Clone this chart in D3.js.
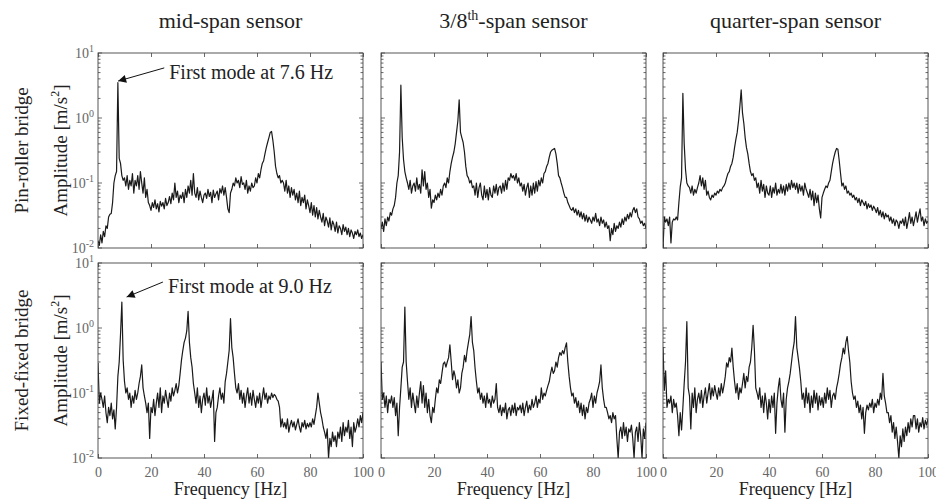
<!DOCTYPE html>
<html>
<head>
<meta charset="utf-8">
<script src="https://cdn.jsdelivr.net/npm/d3@7"></script>
<style>
  body { margin: 0; background: #fff; }
  svg text { font-family: "Liberation Serif", "Times New Roman", serif; }
</style>
</head>
<body>
<svg id="chart" width="936" height="500"></svg>
<script>
// Column titles, row labels and tick values
const sensors = ["mid-span", "3/8", "quarter-span"];
const bridges = ["Pin-roller bridge", "Fixed-fixed bridge"];
const xTicks = [0, 20, 40, 60, 80, 100];
const yMajor = [0.01, 0.1, 1, 10];
const yExponents = ["-2", "-1", "0", "1"];
const freqStep = 0.5; // Hz between samples, spectra start at 0 Hz

// Spectra (amplitude, m/s^2), one value every 0.5 Hz from 0 to 100 Hz
const pinMid = [
  0.013,0.011,0.016,0.012,0.018,0.015,0.022,0.02,0.03,0.033,
  0.034,0.05,0.1,0.13,0.15,3.5,0.24,0.2,0.13,0.11,
  0.12,0.09,0.13,0.08,0.11,0.09,0.14,0.07,0.11,0.09,
  0.13,0.08,0.15,0.1,0.07,0.12,0.06,0.08,0.05,0.045,
  0.038,0.05,0.042,0.055,0.04,0.048,0.036,0.052,0.044,0.05,
  0.04,0.058,0.045,0.05,0.062,0.048,0.07,0.055,0.1,0.06,
  0.075,0.05,0.065,0.058,0.072,0.05,0.08,0.06,0.09,0.07,
  0.11,0.065,0.14,0.07,0.06,0.085,0.055,0.075,0.06,0.05,
  0.065,0.07,0.058,0.08,0.062,0.072,0.05,0.078,0.06,0.068,
  0.075,0.055,0.082,0.07,0.09,0.065,0.085,0.06,0.04,0.035,
  0.07,0.08,0.1,0.09,0.12,0.1,0.11,0.085,0.125,0.095,
  0.1,0.08,0.11,0.07,0.09,0.075,0.1,0.085,0.09,0.12,
  0.1,0.14,0.12,0.16,0.2,0.22,0.28,0.35,0.42,0.5,
  0.6,0.62,0.45,0.3,0.18,0.14,0.12,0.13,0.1,0.11,
  0.1,0.075,0.11,0.07,0.09,0.06,0.085,0.065,0.08,0.055,
  0.07,0.05,0.075,0.045,0.06,0.05,0.065,0.04,0.055,0.045,
  0.035,0.05,0.032,0.045,0.03,0.042,0.028,0.038,0.03,0.025,
  0.034,0.022,0.03,0.026,0.021,0.029,0.019,0.026,0.023,0.018,
  0.025,0.017,0.022,0.02,0.016,0.023,0.018,0.021,0.016,0.02,
  0.015,0.019,0.017,0.014,0.018,0.016,0.019,0.015,0.017,0.014,
  0.016
];
const pinThree = [
  0.02,0.025,0.018,0.028,0.022,0.03,0.026,0.035,0.032,0.04,
  0.045,0.06,0.1,0.13,0.3,3.2,0.5,0.23,0.15,0.12,
  0.1,0.08,0.11,0.07,0.09,0.1,0.075,0.12,0.08,0.095,
  0.07,0.16,0.09,0.15,0.08,0.1,0.06,0.08,0.041,0.055,
  0.05,0.065,0.055,0.07,0.06,0.08,0.065,0.09,0.1,0.085,
  0.12,0.1,0.15,0.2,0.25,0.3,0.4,0.6,0.9,1.9,
  0.6,0.5,0.42,0.3,0.18,0.13,0.12,0.1,0.11,0.085,
  0.09,0.065,0.1,0.06,0.085,0.1,0.065,0.055,0.09,0.06,
  0.08,0.055,0.085,0.065,0.06,0.09,0.07,0.095,0.065,0.085,
  0.09,0.07,0.1,0.075,0.11,0.08,0.12,0.11,0.14,0.12,
  0.13,0.11,0.14,0.1,0.12,0.09,0.1,0.075,0.095,0.065,
  0.085,0.1,0.06,0.09,0.065,0.1,0.07,0.105,0.075,0.11,
  0.09,0.12,0.1,0.14,0.15,0.18,0.2,0.25,0.3,0.32,
  0.33,0.34,0.28,0.2,0.13,0.12,0.1,0.085,0.07,0.06,
  0.06,0.05,0.045,0.04,0.038,0.042,0.035,0.04,0.032,0.038,
  0.03,0.036,0.028,0.034,0.026,0.032,0.025,0.03,0.027,0.024,
  0.03,0.026,0.034,0.025,0.028,0.022,0.03,0.024,0.027,0.021,
  0.025,0.02,0.022,0.013,0.02,0.016,0.024,0.018,0.022,0.02,
  0.025,0.021,0.028,0.023,0.03,0.026,0.033,0.028,0.035,0.03,
  0.038,0.042,0.035,0.04,0.03,0.028,0.024,0.026,0.022,0.024,
  0.02
];
const pinQuarter = [
  0.01,0.03,0.025,0.028,0.022,0.03,0.012,0.025,0.028,0.027,
  0.03,0.027,0.05,0.087,0.12,2.4,0.4,0.16,0.1,0.09,
  0.085,0.07,0.09,0.065,0.08,0.07,0.085,0.1,0.13,0.09,
  0.12,0.08,0.11,0.065,0.075,0.06,0.055,0.065,0.06,0.07,
  0.065,0.075,0.07,0.08,0.075,0.085,0.09,0.1,0.12,0.14,
  0.15,0.18,0.2,0.25,0.35,0.47,0.6,0.9,1.5,2.7,
  1.2,0.83,0.5,0.35,0.28,0.2,0.15,0.13,0.14,0.11,
  0.12,0.085,0.1,0.07,0.11,0.075,0.095,0.06,0.09,0.07,
  0.065,0.09,0.06,0.085,0.07,0.1,0.065,0.08,0.07,0.095,
  0.07,0.09,0.065,0.095,0.075,0.1,0.08,0.11,0.085,0.1,
  0.08,0.1,0.07,0.095,0.075,0.09,0.065,0.1,0.08,0.07,
  0.06,0.08,0.055,0.075,0.045,0.07,0.05,0.065,0.04,0.029,
  0.06,0.07,0.08,0.09,0.085,0.1,0.11,0.15,0.2,0.25,
  0.3,0.34,0.33,0.22,0.14,0.09,0.1,0.08,0.09,0.07,
  0.075,0.065,0.07,0.06,0.065,0.055,0.06,0.05,0.058,0.045,
  0.055,0.05,0.045,0.052,0.04,0.048,0.042,0.046,0.038,0.044,
  0.04,0.035,0.042,0.032,0.038,0.03,0.036,0.028,0.034,0.03,
  0.032,0.026,0.03,0.024,0.028,0.022,0.027,0.025,0.02,0.026,
  0.024,0.028,0.022,0.03,0.02,0.026,0.035,0.024,0.03,0.022,
  0.028,0.036,0.025,0.032,0.04,0.026,0.03,0.022,0.028,0.024,
  0.026
];
const fixMid = [
  0.29,0.07,0.1,0.08,0.06,0.09,0.05,0.035,0.06,0.045,
  0.07,0.04,0.055,0.028,0.06,0.18,0.3,0.8,2.5,0.32,
  0.15,0.1,0.12,0.08,0.1,0.06,0.09,0.07,0.11,0.08,
  0.1,0.14,0.18,0.27,0.12,0.09,0.07,0.05,0.07,0.02,
  0.06,0.05,0.08,0.045,0.07,0.1,0.06,0.12,0.05,0.09,
  0.07,0.11,0.08,0.06,0.1,0.075,0.12,0.09,0.11,0.14,
  0.1,0.13,0.2,0.32,0.45,0.6,0.7,0.9,1.8,0.6,
  0.35,0.25,0.14,0.1,0.07,0.12,0.06,0.09,0.05,0.08,
  0.1,0.065,0.12,0.07,0.09,0.06,0.08,0.11,0.018,0.05,
  0.06,0.09,0.12,0.08,0.1,0.07,0.15,0.2,0.3,0.45,
  1.4,0.5,0.35,0.2,0.12,0.1,0.14,0.08,0.11,0.07,
  0.1,0.06,0.09,0.12,0.07,0.1,0.065,0.11,0.08,0.06,
  0.09,0.07,0.1,0.06,0.085,0.12,0.08,0.1,0.07,0.09,
  0.08,0.1,0.085,0.095,0.09,0.08,0.075,0.06,0.03,0.04,
  0.03,0.035,0.028,0.04,0.025,0.032,0.038,0.03,0.036,0.027,
  0.033,0.04,0.03,0.025,0.035,0.03,0.038,0.028,0.034,0.03,
  0.035,0.03,0.04,0.033,0.045,0.06,0.1,0.07,0.05,0.04,
  0.03,0.025,0.02,0.028,0.01,0.02,0.015,0.025,0.018,0.022,
  0.015,0.025,0.02,0.03,0.018,0.035,0.022,0.03,0.025,0.038,
  0.02,0.03,0.015,0.035,0.025,0.03,0.04,0.03,0.045,0.035,
  0.05
];
const fixThree = [
  0.3,0.08,0.1,0.06,0.09,0.05,0.08,0.07,0.09,0.06,
  0.085,0.045,0.07,0.022,0.06,0.12,0.25,0.3,2.1,0.3,
  0.15,0.08,0.12,0.06,0.1,0.07,0.05,0.09,0.06,0.1,
  0.15,0.07,0.13,0.06,0.1,0.05,0.08,0.045,0.035,0.06,
  0.05,0.08,0.12,0.1,0.16,0.14,0.2,0.28,0.3,0.25,
  0.3,0.35,0.55,0.3,0.16,0.22,0.18,0.12,0.16,0.1,
  0.12,0.2,0.25,0.38,0.3,0.45,0.6,0.8,1.5,0.6,
  0.45,0.24,0.15,0.1,0.12,0.08,0.1,0.07,0.09,0.06,
  0.1,0.07,0.08,0.06,0.09,0.07,0.08,0.14,0.06,0.05,
  0.065,0.045,0.06,0.05,0.07,0.04,0.055,0.06,0.045,0.065,
  0.05,0.07,0.045,0.06,0.055,0.065,0.05,0.07,0.045,0.06,
  0.075,0.05,0.065,0.055,0.08,0.06,0.07,0.09,0.06,0.08,
  0.07,0.12,0.08,0.1,0.09,0.11,0.13,0.15,0.2,0.25,
  0.2,0.22,0.3,0.25,0.35,0.42,0.38,0.45,0.4,0.5,
  0.59,0.3,0.18,0.12,0.09,0.1,0.07,0.085,0.06,0.075,
  0.05,0.07,0.045,0.065,0.04,0.06,0.05,0.07,0.08,0.1,
  0.06,0.09,0.07,0.1,0.12,0.15,0.27,0.12,0.08,0.06,
  0.06,0.05,0.04,0.045,0.035,0.05,0.04,0.045,0.02,0.01,
  0.025,0.03,0.02,0.035,0.022,0.03,0.018,0.028,0.025,0.032,
  0.02,0.01,0.025,0.03,0.018,0.035,0.022,0.01,0.028,0.02,
  0.035
];
const fixQuarter = [
  0.51,0.11,0.22,0.06,0.08,0.07,0.09,0.05,0.08,0.06,
  0.07,0.045,0.022,0.05,0.027,0.06,0.14,0.3,1.25,0.12,
  0.09,0.028,0.1,0.06,0.12,0.05,0.08,0.1,0.07,0.11,
  0.06,0.09,0.12,0.07,0.1,0.14,0.08,0.12,0.09,0.13,
  0.1,0.08,0.12,0.09,0.14,0.1,0.13,0.18,0.29,0.25,
  0.35,0.3,0.49,0.25,0.15,0.1,0.14,0.08,0.12,0.1,
  0.14,0.2,0.12,0.18,0.15,0.25,0.3,0.5,1.1,0.45,
  0.12,0.1,0.08,0.12,0.06,0.09,0.05,0.1,0.07,0.04,
  0.08,0.05,0.09,0.06,0.1,0.024,0.07,0.12,0.17,0.08,
  0.06,0.1,0.025,0.08,0.12,0.15,0.2,0.3,0.45,0.6,
  1.5,0.5,0.35,0.24,0.15,0.08,0.1,0.06,0.12,0.07,
  0.1,0.05,0.09,0.06,0.11,0.07,0.1,0.055,0.09,0.065,
  0.085,0.06,0.1,0.07,0.12,0.08,0.11,0.06,0.09,0.1,
  0.08,0.12,0.15,0.2,0.28,0.35,0.49,0.4,0.6,0.74,
  0.45,0.3,0.15,0.1,0.08,0.09,0.06,0.075,0.05,0.065,
  0.04,0.06,0.024,0.05,0.065,0.055,0.07,0.06,0.08,0.05,
  0.07,0.06,0.08,0.065,0.1,0.08,0.2,0.09,0.07,0.05,
  0.05,0.035,0.045,0.025,0.035,0.02,0.03,0.018,0.01,0.022,
  0.015,0.028,0.018,0.03,0.022,0.035,0.025,0.04,0.03,0.045,
  0.045,0.028,0.04,0.025,0.035,0.03,0.042,0.028,0.038,0.032,
  0.04
];

const spectra = [
  [pinMid, pinThree, pinQuarter],
  [fixMid, fixThree, fixQuarter]
];

// Arrow annotations: text, arrow tip and tail in data units (Hz, m/s^2)
const notes = [
  { row: 0, text: "First mode at 7.6 Hz", tip: [7.6, 3.7], tail: [25, 5.9] },
  { row: 1, text: "First mode at 9.0 Hz", tip: [10.8, 3.0], tail: [24.5, 5.1] }
];

const svg = d3.select("#chart");
const colX = [98, 381, 663];
const rowY = [53, 263];
const pw = 265, ph = 195;

const x = d3.scaleLinear().domain([0, 100]).range([0, pw]);
const y = d3.scaleLog().domain([0.01, 10]).range([ph, 0]);
const yMinor = y.ticks().filter(v => !yMajor.some(m => Math.abs(m - v) < 1e-9));

const line = d3.line()
  .x((d, i) => x(i * freqStep))
  .y(d => y(d));

svg.append("defs").append("clipPath").attr("id", "plotclip")
  .append("rect").attr("width", pw).attr("height", ph);

svg.append("defs").append("marker")
  .attr("id", "arrowhead")
  .attr("viewBox", "0 0 10 10")
  .attr("refX", 10).attr("refY", 5)
  .attr("markerWidth", 12).attr("markerHeight", 8)
  .attr("markerUnits", "userSpaceOnUse")
  .attr("orient", "auto")
  .append("path").attr("d", "M0,0L10,5L0,10Z").attr("fill", "#111");

// Column titles
sensors.forEach((s, c) => {
  const t = svg.append("text")
    .attr("x", colX[c] + pw / 2).attr("y", 28)
    .attr("text-anchor", "middle")
    .attr("font-size", 22).attr("fill", "#222");
  if (s === "3/8") {
    t.append("tspan").text("3/8");
    t.append("tspan").attr("font-size", 14).attr("dy", -8).text("th");
    t.append("tspan").attr("dy", 8).text("-span sensor");
  } else {
    t.text(s + " sensor");
  }
});

spectra.forEach((row, r) => {
  // Row label and y label
  svg.append("text")
    .attr("transform", `translate(28,${rowY[r] + ph / 2}) rotate(-90)`)
    .attr("text-anchor", "middle").attr("font-size", 19).attr("fill", "#222")
    .text(bridges[r]);
  const yl = svg.append("text")
    .attr("transform", `translate(67,${rowY[r] + ph / 2}) rotate(-90)`)
    .attr("text-anchor", "middle").attr("font-size", 19).attr("fill", "#222");
  yl.append("tspan").text("Amplitude [m/s");
  yl.append("tspan").attr("font-size", 12).attr("dy", -8).text("2");
  yl.append("tspan").attr("dy", 8).text("]");

  row.forEach((values, c) => {
    const g = svg.append("g").attr("transform", `translate(${colX[c]},${rowY[r]})`);

    // x ticks, bottom and top, pointing inward
    const xb = g.append("g").attr("transform", `translate(0,${ph})`)
      .call(d3.axisBottom(x).tickValues(xTicks).tickSize(-4).tickPadding(9)
        .tickFormat(r === 1 ? d3.format("d") : () => ""));
    g.append("g")
      .call(d3.axisTop(x).tickValues(xTicks).tickSize(-4).tickFormat(() => ""));

    // y ticks, left and right, major and minor
    [[0, 1], [pw, -1]].forEach(([x0, dir]) => {
      g.append("g").selectAll("line.maj").data(yMajor).enter().append("line")
        .attr("x1", x0).attr("x2", x0 + dir * 4)
        .attr("y1", d => y(d)).attr("y2", d => y(d));
      g.append("g").selectAll("line.min").data(yMinor).enter().append("line")
        .attr("x1", x0).attr("x2", x0 + dir * 2.5)
        .attr("y1", d => y(d)).attr("y2", d => y(d));
    });
    g.selectAll("line").attr("stroke", "#444").attr("stroke-width", 0.8);
    g.selectAll(".domain").remove();
    xb.selectAll("text")
      .attr("font-family", '"Liberation Serif", serif')
      .attr("font-size", 14).attr("fill", "#666");

    // y tick labels on first column only
    if (c === 0) {
      yMajor.forEach((v, i) => {
        const t = g.append("text")
          .attr("x", -4).attr("y", y(v) + 5)
          .attr("text-anchor", "end").attr("font-size", 14).attr("fill", "#666");
        t.append("tspan").text("10");
        t.append("tspan").attr("font-size", 10).attr("dy", -6).text(yExponents[i]);
      });
    }

    g.append("path")
      .datum(values)
      .attr("clip-path", "url(#plotclip)")
      .attr("fill", "none")
      .attr("stroke", "#1a1a1a")
      .attr("stroke-width", 1.2)
      .attr("stroke-linejoin", "round")
      .attr("d", line);

    g.append("rect")
      .attr("width", pw).attr("height", ph)
      .attr("fill", "none").attr("stroke", "#444").attr("stroke-width", 0.9);

    if (c === 0) {
      const n = notes.find(d => d.row === r);
      g.append("line")
        .attr("x1", x(n.tail[0])).attr("y1", y(n.tail[1]))
        .attr("x2", x(n.tip[0])).attr("y2", y(n.tip[1]))
        .attr("stroke", "#111").attr("stroke-width", 1)
        .attr("marker-end", "url(#arrowhead)");
      g.append("text")
        .attr("x", x(n.tail[0]) + 5).attr("y", y(n.tail[1]) + 11)
        .attr("font-size", 20).attr("fill", "#222")
        .text(n.text);
    }

    if (r === 1) {
      svg.append("text")
        .attr("x", colX[c] + pw / 2).attr("y", 495)
        .attr("text-anchor", "middle").attr("font-size", 18).attr("fill", "#222")
        .text("Frequency [Hz]");
    }
  });
});
</script>
</body>
</html>
